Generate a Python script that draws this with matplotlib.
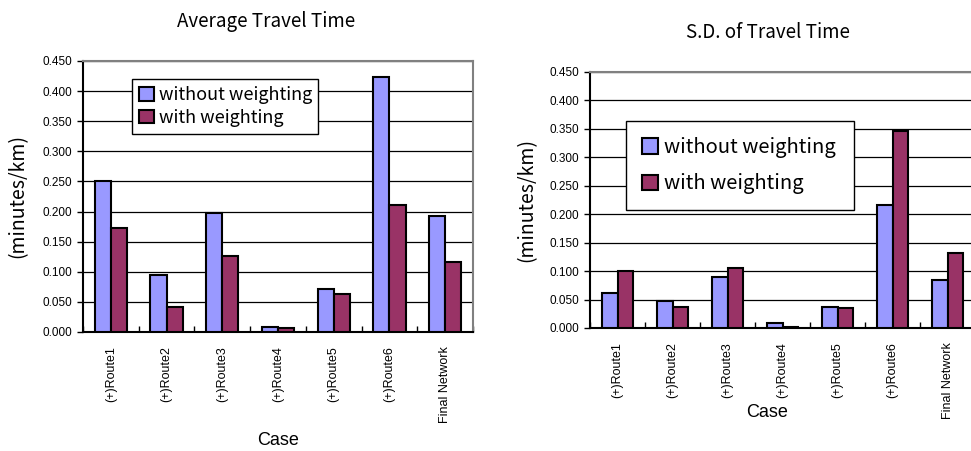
import numpy as np
import matplotlib
matplotlib.use("Agg")
from matplotlib import pyplot as plt

cases = ["(+)Route1", "(+)Route2", "(+)Route3", "(+)Route4",
         "(+)Route5", "(+)Route6", "Final Network"]

# average travel time (minutes/km)
avg_without = [0.251, 0.095, 0.198, 0.009, 0.072, 0.424, 0.193]
avg_with = [0.173, 0.042, 0.126, 0.006, 0.063, 0.211, 0.117]

# standard deviation of travel time (minutes/km)
sd_without = [0.061, 0.048, 0.090, 0.009, 0.037, 0.216, 0.085]
sd_with = [0.101, 0.037, 0.105, 0.002, 0.035, 0.346, 0.132]

yticks = np.arange(0, 0.451, 0.05)

blue = "#9999FF"
maroon = "#993366"
W, H = 971, 451

fig = plt.figure(figsize=(W / 100, H / 100), dpi=100)

def px_axes(left, top, right, bottom):
    #converts pixel box to figure fractions
    return [left / W, 1 - bottom / H, (right - left) / W, (bottom - top) / H]

def draw_chart(ax, without, with_w, leg_box, leg_size, leg_space, leg_pad, ylab_x, case_pos):
    x = np.arange(len(cases))
    bw = 0.29
    ax.bar(x - bw / 2, without, bw, color=blue, edgecolor="black",
           linewidth=1.5, label="without weighting", zorder=3)
    ax.bar(x + bw / 2, with_w, bw, color=maroon, edgecolor="black",
           linewidth=1.5, label="with weighting", zorder=3)
    ax.set_xlim(-0.5, len(cases) - 0.5)
    ax.set_ylim(0, 0.45)
    ax.set_yticks(yticks)
    ax.set_yticklabels(["%.3f" % v for v in yticks], family="Liberation Sans", fontsize=8.5)
    ax.yaxis.grid(True, color="black", linewidth=0.9, zorder=0)
    ax.set_xticks(x)
    ax.set_xticklabels(cases, rotation=90, family="Liberation Sans", fontsize=9)
    ax.tick_params(axis="x", length=0, pad=10)
    ax.set_xticks(np.arange(-0.5, len(cases)), minor=True)
    ax.tick_params(axis="x", which="minor", length=4, direction="in", width=1)
    ax.tick_params(axis="y", length=4, direction="out", width=1)
    for s in ["top", "right"]:
        ax.spines[s].set_color("#808080")
        ax.spines[s].set_linewidth(1.5)
    for s in ["left", "bottom"]:
        ax.spines[s].set_linewidth(1.5)
    ax.set_ylabel("(minutes/km)", family="Noto Sans CJK JP", fontsize=14)
    ax.yaxis.set_label_coords(ylab_x, 0.5)
    ax.yaxis.label.set_va("center")
    ax.set_xlabel("Case", family="Liberation Sans", fontsize=13)
    ax.xaxis.set_label_coords(case_pos[0], case_pos[1])
    ax.xaxis.label.set_va("center")
    leg = ax.legend(loc="upper left", bbox_to_anchor=leg_box, mode="expand",
                    prop={"family": "Noto Sans CJK JP", "size": leg_size},
                    fancybox=False, framealpha=1, edgecolor="black",
                    borderaxespad=0, handlelength=0.8, handleheight=0.8,
                    handletextpad=0.3, labelspacing=leg_space, borderpad=leg_pad)
    leg.get_frame().set_linewidth(1)
    leg.set_zorder(5)

ax1 = fig.add_axes(px_axes(83, 61, 473, 332))
draw_chart(ax1, avg_without, avg_with,
           ((132 - 83) / 390, (332 - 139) / 271, 186 / 390, 60 / 271),
           13, 0.25, 0.4, -0.167, (0.5, -0.40))
fig.text(266 / W, 1 - 22 / H, "Average Travel Time", ha="center", va="center",
         family="Noto Sans CJK JP", fontsize=13.5)

ax2 = fig.add_axes(px_axes(590, 72, 975, 328))
draw_chart(ax2, sd_without, sd_with,
           ((626 - 590) / 385, (328 - 201) / 256, 228 / 385, 80 / 256),
           14.5, 0.75, 0.8, -0.164, (0.46, -0.33))
fig.text(768 / W, 1 - 32 / H, "S.D. of Travel Time", ha="center", va="center",
         family="Noto Sans CJK JP", fontsize=13.5)

fig.savefig("out.png", dpi=100)
